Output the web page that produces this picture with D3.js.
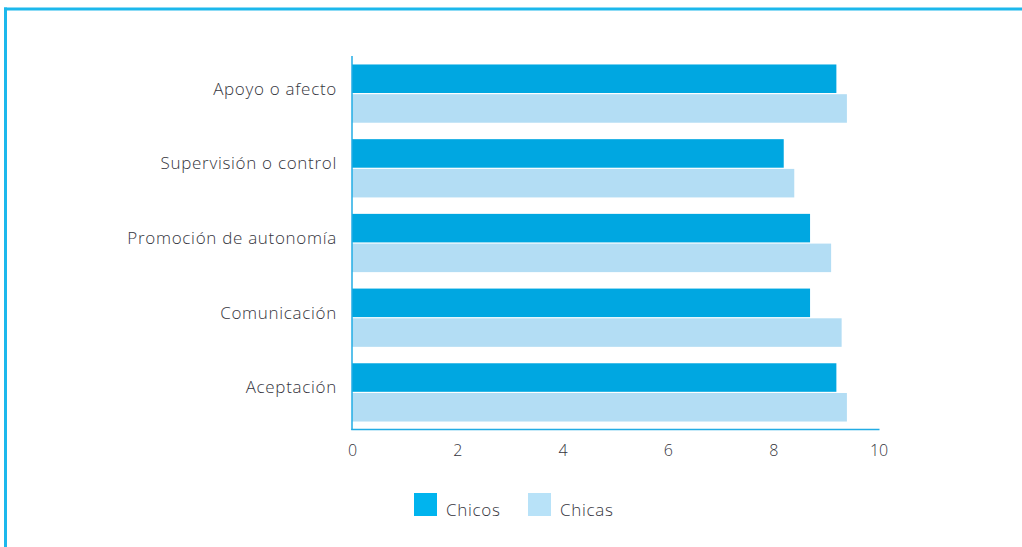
<!DOCTYPE html>
<html>
<head>
<meta charset="utf-8">
<script src="https://cdn.jsdelivr.net/npm/d3@7"></script>
<style>
  html, body { margin: 0; padding: 0; background: #fff; }
  svg { display: block; }
  text { font-family: "Open Sans", Lato, sans-serif; font-weight: 300; fill: #35353d; }
</style>
</head>
<body>
<svg id="chart" width="1022" height="547"></svg>
<script>
// Dimensiones parentales percibidas, por sexo
const categories = ["Apoyo o afecto", "Supervisión o control", "Promoción de autonomía", "Comunicación", "Aceptación"];
const chicos = [9.2, 8.2, 8.7, 8.7, 9.2];
const chicas = [9.4, 8.4, 9.1, 9.3, 9.4];
const seriesNames = ["Chicos", "Chicas"];
const ticks = [0, 2, 4, 6, 8, 10];

const colors = { Chicos: "#00a7e1", Chicas: "#b3ddf4" };
const legendColors = { Chicos: "#00b4ee", Chicas: "#b8e2f8" };
const frameColor = "#1cb8ec";
const axisColor = "#22ace4";

const svg = d3.select("#chart");

// marco superior e izquierdo
svg.append("line").attr("x1", 4).attr("x2", 1022).attr("y1", 9).attr("y2", 9)
  .attr("stroke", frameColor).attr("stroke-width", 3);
svg.append("line").attr("x1", 5.5).attr("x2", 5.5).attr("y1", 7.5).attr("y2", 547)
  .attr("stroke", frameColor).attr("stroke-width", 3);

const x = d3.scaleLinear().domain([0, 10]).range([352, 878.5]);
const y = d3.scaleBand().domain(categories).range([57, 429])
  .paddingInner(0.22).paddingOuter(0.1);
const ySub = d3.scaleBand().domain(seriesNames).range([0, y.bandwidth()]).paddingInner(0.04);

const rows = categories.map((c, i) => ({ cat: c, Chicos: chicos[i], Chicas: chicas[i] }));

const g = svg.append("g");
const groups = g.selectAll("g.cat").data(rows).join("g")
  .attr("class", "cat")
  .attr("transform", d => `translate(0,${y(d.cat)})`);

groups.selectAll("rect").data(d => seriesNames.map(s => ({ s, v: d[s] }))).join("rect")
  .attr("x", x(0))
  .attr("y", d => ySub(d.s))
  .attr("width", d => x(d.v) - x(0))
  .attr("height", ySub.bandwidth())
  .attr("fill", d => colors[d.s]);

// etiquetas de categoría
g.selectAll("text.cat").data(categories).join("text")
  .attr("class", "cat")
  .attr("x", 337)
  .attr("y", d => y(d) + y.bandwidth() / 2 - 5)
  .attr("dy", "0.35em")
  .attr("text-anchor", "end")
  .style("font-size", "17px")
  .style("letter-spacing", "0.7px")
  .text(d => d);

// ejes
svg.append("line").attr("x1", x(0)).attr("x2", x(0)).attr("y1", 56).attr("y2", 430)
  .attr("stroke", axisColor).attr("stroke-width", 1.5);
svg.append("line").attr("x1", x(0) - 0.75).attr("x2", x(10) + 1).attr("y1", 429.5).attr("y2", 429.5)
  .attr("stroke", axisColor).attr("stroke-width", 1.5);

const xAxis = d3.axisBottom(x).tickValues(ticks).tickSize(0).tickPadding(0).tickFormat(d3.format("d"));
const ax = svg.append("g").attr("transform", "translate(0,445)").call(xAxis);
ax.select(".domain").remove();
ax.selectAll("text").attr("dy", "0.71em").style("font-size", "16px")
  .style("font-family", "'Open Sans', Lato, sans-serif").style("font-weight", 300)
  .attr("fill", "#35353d");

// leyenda
const legendX = d3.scaleOrdinal().domain(seriesNames).range([414, 528]);
const lg = svg.append("g").selectAll("g").data(seriesNames).join("g")
  .attr("transform", d => `translate(${legendX(d)},493)`);
lg.append("rect").attr("width", 23).attr("height", 23).attr("fill", d => legendColors[d]);
lg.append("text").attr("x", 32).attr("y", 23).style("font-size", "17px")
  .style("letter-spacing", "0.7px").text(d => d);
</script>
</body>
</html>
